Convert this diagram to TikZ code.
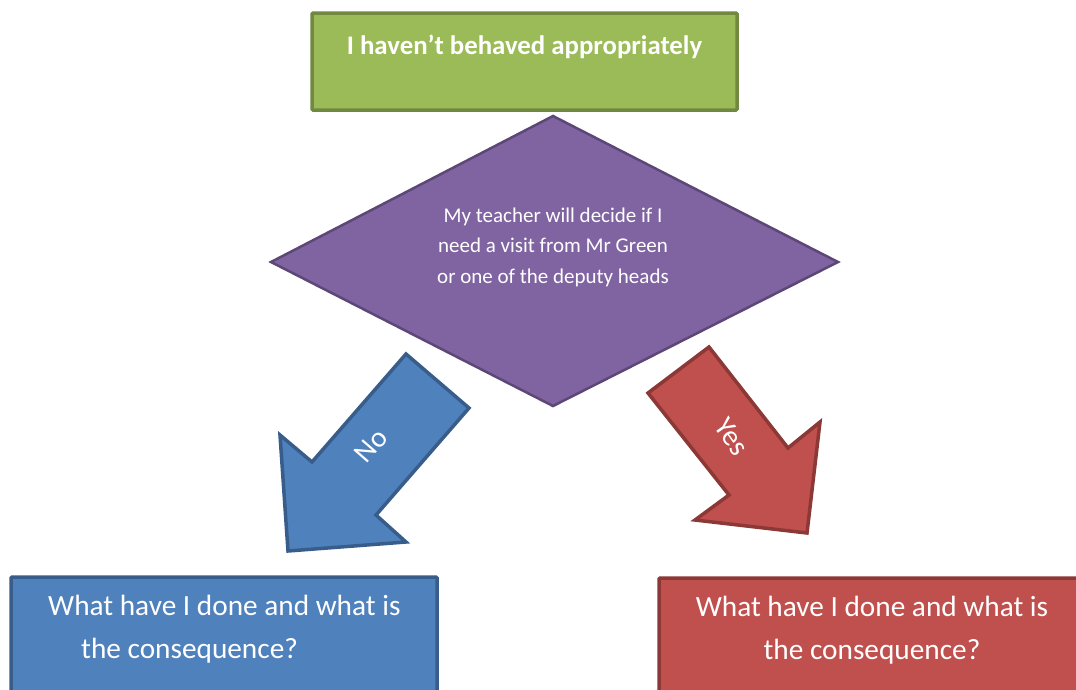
\documentclass[tikz,border=0pt]{standalone}
\usepackage{fontspec}
\setmainfont{Carlito}
\usetikzlibrary{shapes.geometric}
\definecolor{greenfill}{HTML}{9BBB59}
\definecolor{greenline}{HTML}{71893F}
\definecolor{purplefill}{HTML}{8064A2}
\definecolor{purpleline}{HTML}{5C4776}
\definecolor{bluefill}{HTML}{4F81BD}
\definecolor{blueline}{HTML}{385D8A}
\definecolor{redfill}{HTML}{C0504D}
\definecolor{redline}{HTML}{8C3836}
\begin{document}
\begin{tikzpicture}[x=1pt, y=-1pt,
    every node/.style = {text=white, inner sep=0pt},
    box/.style = {draw, line width=3.5pt, rounded corners=1pt},
    blockarrow/.style = {line width=3.5pt, line join=miter}]
  \clip (0,0) rectangle (1076,689);
  \fill[white] (0,0) rectangle (1076,689);
  % top box
  \draw[box, fill=greenfill, draw=greenline] (312,13) rectangle (737,110);
  \node[font=\bfseries\fontsize{26.8}{30}\selectfont] (top) at (524.5,47) {I haven’t behaved appropriately};
  % decision
  \draw[line width=2.5pt, fill=purplefill, draw=purpleline, line join=miter]
    (271,262) -- (553,116) -- (838,262) -- (553,406) -- cycle;
  \node[align=center, font=\fontsize{21}{30.5}\selectfont] (decide) at (553,247)
    {My teacher will decide if I\\need a visit from Mr Green\\or one of the deputy heads};
  % no arrow
  \draw[blockarrow, fill=bluefill, draw=blueline]
    (406,354) -- (469,408) -- (376,515) -- (406,542) -- (288,551) -- (280,435) -- (312,462) -- cycle;
  \node[rotate=49, font=\fontsize{29}{32}\selectfont] (no) at (371,446) {No};
  % yes arrow
  \draw[blockarrow, fill=redfill, draw=redline]
    (709,347) -- (648,393) -- (729,495) -- (695,520) -- (807,533) -- (820,422) -- (788,448) -- cycle;
  \node[rotate=-55, font=\fontsize{29}{32}\selectfont] (yes) at (732,437) {Yes};
  % bottom boxes
  \draw[box, fill=bluefill, draw=blueline] (11,577) rectangle (437,700);
  \node[align=left, anchor=west, font=\fontsize{29.3}{43}\selectfont] (cons1) at (48,629)
    {What have I done and what is\\\hspace*{33pt}the consequence?};
  \draw[box, fill=redfill, draw=redline] (659,578) rectangle (1090,700);
  \node[align=center, font=\fontsize{29.3}{43}\selectfont] (cons2) at (872,630)
    {What have I done and what is\\the consequence?};
\end{tikzpicture}
\end{document}
